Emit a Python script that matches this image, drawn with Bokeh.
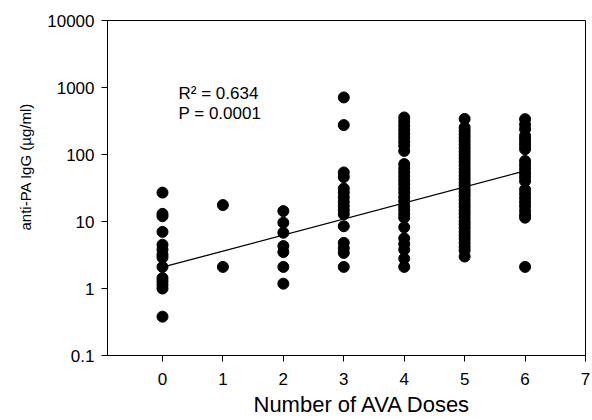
from bokeh.plotting import figure
from bokeh.models import FixedTicker, CustomJSTickFormatter, Range1d, ColumnDataSource, Title
from bokeh.core.properties import value
from bokeh.embed import file_html
from bokeh.resources import INLINE

# anti-PA IgG (ug/ml) values per number of AVA doses
dose0 = [27, 13, 12, 7.0, 4.5, 3.8, 3.2, 2.9, 2.1, 1.43, 1.28, 1.14, 1.0, 0.38]
dose1 = [17.6, 2.1]
dose2 = [14.3, 9.6, 6.8, 4.3, 3.5, 2.1, 1.18]
dose3 = [711, 275, 54, 46, 31, 27, 23, 19.7, 17, 14.7, 12.8, 8.5, 4.8, 4.0, 3.4, 2.1]
dose4 = [357, 310, 270, 235, 205, 180, 155, 135, 113,
         72, 62, 54, 47, 41, 36, 31, 27, 23, 20, 17, 15, 13, 11.4,
         8.2, 5.6, 4.6, 3.8, 2.8, 2.1]
dose5 = [340, 253, 225, 200, 178, 158, 140, 125, 111, 99, 88, 78, 69, 61, 54, 48,
         43, 38, 34, 30, 27, 24, 21, 18.5, 16.5, 14.5, 13, 11.5, 10, 9, 8, 7,
         6.2, 5.5, 4.8, 4.2, 3.7, 3.0]
dose6 = [337, 280, 239, 190, 170, 150, 135, 120,
         80, 70, 61, 53, 46, 40,
         30, 26, 22.5, 19.5, 17, 14.5, 12.5, 11.4, 2.1]
doses = [0, 1, 2, 3, 4, 5, 6]
groups = [dose0, dose1, dose2, dose3, dose4, dose5, dose6]

# regression line end points
fit_x = [0, 6]
fit_y = [2.08, 57]

# annotation
note_x = [0.265, 0.265]
note_y = [817, 409]
note_text = ["R\u00b2 = 0.634", "P = 0.0001"]

x_ticks = [0, 1, 2, 3, 4, 5, 6, 7]
y_ticks = [0.1, 1, 10, 100, 1000, 10000]
x_title = "Number of AVA Doses"
y_title = "anti-PA IgG (\u00b5g/ml)"

xs, ys = [], []
for d, g in zip(doses, groups):
    xs += [d] * len(g)
    ys += g
src = ColumnDataSource(dict(x=xs, y=ys))

p = figure(width=592, height=420, y_axis_type="log",
           x_range=Range1d(-0.91, 7), y_range=Range1d(0.1, 10000),
           output_backend="svg", toolbar_location=None,
           min_border_left=107, min_border_right=7, min_border_top=20, min_border_bottom=65)
p.background_fill_color = "white"
p.border_fill_color = "white"
p.outline_line_color = "black"
p.outline_line_width = 1
p.xgrid.visible = False
p.ygrid.visible = False

for ax in (p.xaxis[0], p.yaxis[0]):
    ax.axis_line_color = "black"
    ax.major_tick_line_color = "black"
    ax.major_tick_out = 6
    ax.major_tick_in = 0
    ax.minor_tick_line_color = None
    ax.major_label_text_font = "Liberation Sans"
    ax.major_label_text_font_size = "17px"
    ax.major_label_text_color = "black"

p.xaxis.ticker = FixedTicker(ticks=x_ticks)
p.yaxis.ticker = FixedTicker(ticks=y_ticks, minor_ticks=[])
p.yaxis.formatter = CustomJSTickFormatter(code="return tick.toString();")
p.xaxis.major_label_standoff = 11
p.yaxis.major_label_standoff = 7

# axis titles, placed like the reference (offset from the frame centre)
p.add_layout(Title(text=x_title, align="left", offset=146, standoff=4,
                   text_font="Liberation Sans", text_font_size="22px",
                   text_font_style="normal", text_color="black"), "below")
p.add_layout(Title(text=y_title, align="left", offset=125, standoff=22,
                   text_font="Liberation Sans", text_font_size="15px",
                   text_font_style="normal", text_color="black"), "left")

p.line(fit_x, fit_y, line_color="black", line_width=1.3)
p.scatter("x", "y", source=src, size=11, color="black")
p.text(x=note_x, y=note_y, text=note_text, text_font=value("Liberation Sans"),
       text_font_size="17px", text_baseline="middle", text_align="left", text_color="black")

open("out.html", "w").write(file_html(p, INLINE))
